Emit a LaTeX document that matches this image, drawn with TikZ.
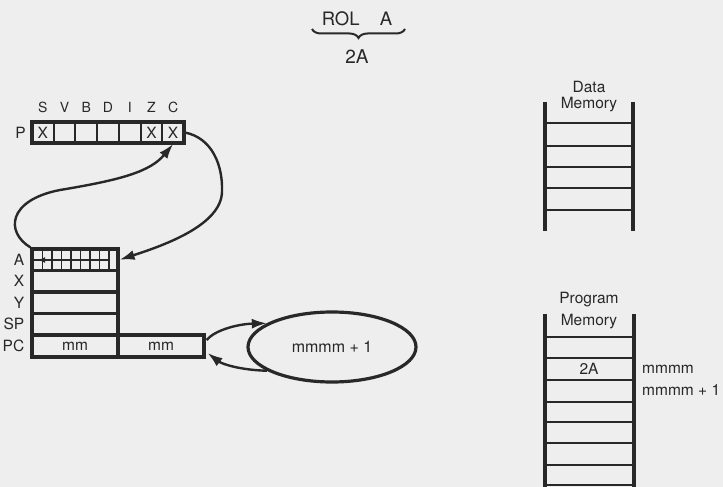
\documentclass[tikz,border=0pt]{standalone}
\usepackage{fontspec}
\setmainfont{TeX Gyre Heros}
\usetikzlibrary{arrows.meta,shapes.geometric,decorations.pathreplacing,calc}
\definecolor{ink}{RGB}{40,40,40}
\definecolor{paper}{RGB}{238,238,238}
\begin{document}
\begin{tikzpicture}[x=1pt,y=-1pt,
  every node/.style={text=ink},
  lbl/.style={font=\fontsize{15.5}{17}\selectfont, inner sep=0pt},
  flag/.style={font=\fontsize{14}{16}\selectfont, inner sep=0pt},
  reg/.style={draw=ink, line width=3.2pt, minimum width=86pt, minimum height=21.5pt, inner sep=0pt, font=\fontsize{15.5}{17}\selectfont},
  cell/.style={draw=ink, line width=2pt, minimum width=21.714pt, minimum height=21pt, inner sep=0pt, font=\fontsize{15.5}{17}\selectfont},
  arr/.style={draw=ink, line width=2.4pt, -{Latex[length=15pt,width=10pt]}},
  rail/.style={draw=ink, line width=3.6pt},
  rung/.style={draw=ink, line width=2.4pt},
  thin/.style={draw=ink, line width=1.4pt}
]
\fill[paper] (0,0) rectangle (723,487);
\useasboundingbox (0,0) rectangle (723,487);

% title
\node[font=\fontsize{18.5}{20}\selectfont, inner sep=0pt] (rol) at (357,19) {ROL\hspace{1.1em}A};
\coordinate (bl) at (312,29);
\coordinate (br) at (405,29);
\draw[ink, line width=2pt, decorate, decoration={brace, amplitude=9pt}] (br) -- (bl);
\node[font=\fontsize{19}{21}\selectfont, inner sep=0pt] (twoA) at (357,57) {2A};

% P register
\foreach \i/\f/\v in {1/S/X,2/V/,3/B/,4/D/,5/I/,6/Z/X,7/C/X} {
  \node[cell] (p\i) at ({32+21.714*(\i-0.5)},132.5) {\v};
  \node[flag] (f\i) at ({32+21.714*(\i-0.5)},107) {\f};
}
\node[draw=ink, line width=3.4pt, minimum width=152pt, minimum height=21pt, inner sep=0pt] (P) at (108,132.5) {};
\node[lbl, anchor=east] (Plbl) at (26,132.5) {P};

% registers
\node[reg] (A) at (75,259.75) {};
\node[reg] (X) at (75,281.25) {};
\node[reg] (Y) at (75,302.75) {};
\node[reg] (SP) at (75,324.25) {};
\node[reg, minimum height=22pt] (PC1) at (75,346) {mm};
\node[reg, minimum height=22pt] (PC2) at (161,346) {mm};
\node[lbl, anchor=east] (lA) at ($(A.west)+(-6,0)$) {A};
\node[lbl, anchor=east] (lX) at ($(X.west)+(-6,0)$) {X};
\node[lbl, anchor=east] (lY) at ($(Y.west)+(-6,0)$) {Y};
\node[lbl, anchor=east] (lSP) at ($(SP.west)+(-6,0)$) {SP};
\node[lbl, anchor=east] (lPC) at ($(PC1.west)+(-6,0)$) {PC};

% bits inside A
\foreach \k in {1,...,8} \draw[thin] ({33+9.5*\k},250) -- ({33+9.5*\k},270);
\draw[thin] (33,260) -- (109,260);
\coordinate (shs) at (104,260);
\coordinate (she) at (38,260);
\draw[ink, line width=1.4pt, -{Latex[length=7pt,width=6pt]}] (shs) -- (she);

% flag <-> A arrows
\draw[arr] (p7.east) .. controls (212,138) and (223,165) .. (222,192)
  .. controls (221,225) and (165,245) .. (A.east);
\draw[arr] (A.north west) .. controls (5,232) and (8,200) .. (60,190)
  .. controls (120,180) and (150,172) .. (p7.south);

% ellipse
\node[ellipse, draw=ink, line width=3.2pt, minimum width=168pt, minimum height=70pt, inner sep=0pt, font=\fontsize{16}{18}\selectfont] (E) at (332,347) {mmmm + 1};
\coordinate (pcu) at ($(PC2.east)+(1,-6)$);
\coordinate (pcd) at ($(PC2.east)+(2,7)$);
\draw[arr] (pcu) .. controls (215,330) and (238,324) .. (E.160);
\draw[arr] (E.200) .. controls (240,370) and (222,364) .. (pcd);

% data memory
\node[lbl] (dm1) at (589,87) {Data};
\node[lbl] (dm2) at (589,105) {Memory};
\draw[rail] (545,102) -- (545,231);
\draw[rail] (633,102) -- (633,231);
\foreach \y in {123,146,167,188,210} \draw[rung] (545,\y) -- (633,\y);

% program memory
\node[lbl] (pm1) at (589,300) {Program};
\node[lbl] (pm2) at (589,322) {Memory};
\draw[rail] (545,314) -- (545,487);
\draw[rail] (634,314) -- (634,487);
\foreach \y in {337,358,380,402,422,443,465,485} \draw[rung] (545,\y) -- (634,\y);
\node[lbl] (m2A) at (589,369) {2A};
\node[lbl, anchor=west] (addr1) at (642,369) {mmmm};
\node[lbl, anchor=west] (addr2) at (642,390) {mmmm + 1};
\end{tikzpicture}
\end{document}
